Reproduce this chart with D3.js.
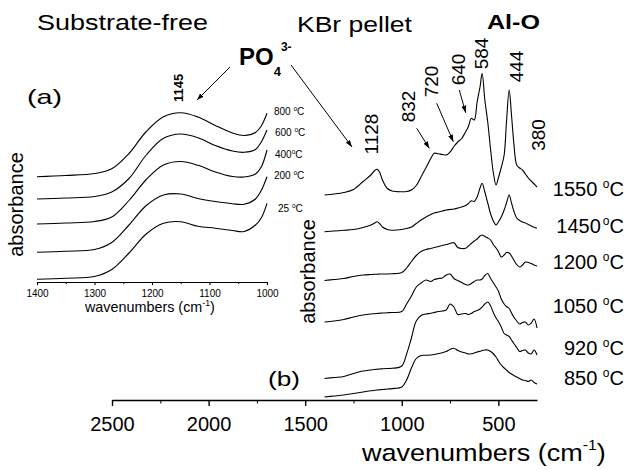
<!DOCTYPE html>
<html>
<head>
<meta charset="utf-8">
<script src="https://cdn.jsdelivr.net/npm/d3@7"></script>
<style>
    body { margin: 0; background: #fff; }
    svg { display: block; font-family: "Liberation Sans", Arial, sans-serif; }
</style>
</head>
<body>
<div id="chart"></div>
<script>
// (a) substrate-free films, stacked absorbance (a.u.)
var wnA = [1400, 1350, 1300, 1270, 1240, 1210, 1180, 1150, 1120, 1090, 1060, 1040, 1020, 1010, 1000];
var tempsA = ["25", "200", "400", "600", "800"];
var abs25 = [0.027, 0.038, 0.055, 0.125, 0.29, 0.48, 0.587, 0.603, 0.557, 0.538, 0.515, 0.505, 0.57, 0.64, 0.787];
var abs200 = [0.297, 0.308, 0.325, 0.395, 0.57, 0.765, 0.87, 0.88, 0.835, 0.805, 0.783, 0.777, 0.83, 0.915, 1.053];
var abs400 = [0.58, 0.59, 0.605, 0.65, 0.815, 1.025, 1.17, 1.205, 1.167, 1.10, 1.055, 1.05, 1.08, 1.15, 1.32];
var abs600 = [0.83, 0.84, 0.855, 0.90, 1.035, 1.27, 1.437, 1.48, 1.443, 1.365, 1.31, 1.297, 1.325, 1.40, 1.52];
var abs800 = [1.053, 1.065, 1.085, 1.132, 1.285, 1.505, 1.653, 1.693, 1.65, 1.565, 1.49, 1.465, 1.495, 1.56, 1.687];
var ticksA = [1400, 1300, 1200, 1100, 1000];
var minorA = [1350, 1250, 1150, 1050];

// (b) KBr pellet spectra, stacked absorbance (a.u.)
var wnB = [1400, 1350, 1300, 1250, 1200, 1160, 1140, 1128, 1115, 1100,
    1075, 1050, 1000, 975, 950, 925, 900, 875, 850, 832,
    810, 790, 770, 750, 730, 710, 690, 670, 655, 640,
    625, 610, 595, 584, 570, 555, 540, 525, 512, 500,
    485, 470, 458, 444, 432, 420, 405, 390, 375, 360,
    345, 330, 315, 300];
var tempsB = ["850", "920", "1050", "1200", "1450", "1550"];
var abs850 = [0.03, 0.04, 0.05, 0.065, 0.08, 0.092, 0.097, 0.10, 0.102, 0.105,
    0.11, 0.114, 0.13, 0.20, 0.32, 0.415, 0.445, 0.447, 0.45, 0.455,
    0.465, 0.473, 0.485, 0.505, 0.517, 0.495, 0.48, 0.47, 0.46, 0.462,
    0.47, 0.48, 0.487, 0.495, 0.50, 0.50, 0.485, 0.46, 0.43, 0.39,
    0.35, 0.32, 0.30, 0.275, 0.26, 0.245, 0.23, 0.215, 0.20, 0.195,
    0.185, 0.20, 0.175, 0.16];
var abs920 = [0.215, 0.225, 0.235, 0.265, 0.29, 0.30, 0.305, 0.307, 0.31, 0.312,
    0.315, 0.317, 0.34, 0.46, 0.62, 0.79, 0.845, 0.86, 0.867, 0.875,
    0.885, 0.89, 0.90, 0.96, 0.93, 0.855, 0.86, 0.865, 0.855, 0.865,
    0.885, 0.895, 0.91, 0.93, 0.96, 0.98, 0.94, 0.87, 0.82, 0.785,
    0.73, 0.665, 0.65, 0.635, 0.60, 0.565, 0.525, 0.485, 0.495, 0.50,
    0.47, 0.46, 0.50, 0.45];
var abs1050 = [0.78, 0.79, 0.805, 0.83, 0.85, 0.86, 0.863, 0.865, 0.867, 0.87,
    0.873, 0.875, 0.885, 0.96, 1.04, 1.13, 1.17, 1.20, 1.185, 1.205,
    1.215, 1.22, 1.25, 1.26, 1.215, 1.195, 1.175, 1.155, 1.15, 1.165,
    1.185, 1.20, 1.20, 1.21, 1.245, 1.265, 1.215, 1.17, 1.13, 1.09,
    1.01, 0.96, 0.935, 0.915, 0.87, 0.83, 0.79, 0.76, 0.775, 0.78,
    0.75, 0.77, 0.81, 0.72];
var abs1200 = [1.195, 1.205, 1.215, 1.235, 1.25, 1.255, 1.257, 1.258, 1.26, 1.26,
    1.26, 1.262, 1.275, 1.32, 1.385, 1.445, 1.485, 1.505, 1.515, 1.525,
    1.535, 1.545, 1.555, 1.565, 1.573, 1.525, 1.515, 1.517, 1.54, 1.565,
    1.59, 1.61, 1.64, 1.65, 1.635, 1.62, 1.60, 1.55, 1.52, 1.485,
    1.43, 1.45, 1.475, 1.47, 1.44, 1.40, 1.355, 1.33, 1.35, 1.38,
    1.375, 1.365, 1.35, 1.34];
var abs1450 = [1.683, 1.69, 1.697, 1.705, 1.725, 1.75, 1.77, 1.783, 1.765, 1.73,
    1.705, 1.698, 1.705, 1.715, 1.73, 1.765, 1.80, 1.83, 1.855, 1.87,
    1.88, 1.89, 1.90, 1.905, 1.91, 1.92, 1.93, 1.945, 1.965, 1.993,
    1.985, 2.03, 2.12, 2.167, 2.08, 1.97, 1.86, 1.785, 1.75, 1.78,
    1.83, 1.90, 1.97, 2.05, 1.97, 1.89, 1.82, 1.795, 1.78, 1.77,
    1.755, 1.74, 1.727, 1.717];
var abs1550 = [2.05, 2.06, 2.075, 2.105, 2.185, 2.25, 2.295, 2.307, 2.28, 2.20,
    2.115, 2.09, 2.083, 2.085, 2.10, 2.145, 2.232, 2.322, 2.415, 2.467,
    2.462, 2.455, 2.45, 2.48, 2.535, 2.58, 2.615, 2.68, 2.735, 2.817,
    2.80, 2.98, 3.13, 3.267, 3.00, 2.78, 2.50, 2.26, 2.15, 2.22,
    2.325, 2.45, 2.78, 3.10, 2.85, 2.57, 2.35, 2.32, 2.30, 2.26,
    2.22, 2.19, 2.16, 2.13];
var ticksB = [2500, 2000, 1500, 1000, 500];
var minorB = [2250, 1750, 1250, 750];
var peaksB = ["1128", "832", "720", "640", "584", "444", "380"];

window.onload = function(){
    var font = "'Liberation Sans', Arial, sans-serif";
    var svg = d3.select("#chart")
                .append("svg")
                .attr("width", 627)
                .attr("height", 470);

    // arrow head for the annotations
    svg.append("defs").append("marker")
        .attr("id", "ah")
        .attr("viewBox", "0 0 10 10")
        .attr("refX", 10)
        .attr("refY", 5)
        .attr("markerWidth", 7)
        .attr("markerHeight", 7)
        .attr("markerUnits", "userSpaceOnUse")
        .attr("orient", "auto")
        .append("path")
        .attr("d", "M0,1.5L10,5L0,8.5Z")
        .attr("fill", "#000");

    // text with optional sub/superscript runs, stretched to a width if asked
    function addText(x, y, runs, size, opts){
        opts = opts || {};
        var g = svg.append("g")
            .attr("transform", "translate(" + x + "," + y + ")" + (opts.rotate ? " rotate(" + opts.rotate + ")" : ""));
        var t = g.append("text")
            .attr("font-size", size)
            .attr("font-weight", opts.bold ? "bold" : "normal")
            .attr("text-anchor", opts.anchor || "start");
        runs.forEach(function(r){
            var s = t.append("tspan").text(r[0]);
            if(r[1]) s.attr("font-size", r[1]);
            if(r[2]) s.attr("dy", r[2]);
            if(r[3]) s.attr("dx", r[3]);
        });
        if(opts.width){
            var bw = t.node().getBBox().width;
            t.attr("transform", "scale(" + (opts.width / bw) + ",1)");
        }
        return t;
    }

    // ---------- panel (a) ----------
    var xA = d3.scaleLinear().domain([1400, 1000]).range([37, 267]);
    var yA = d3.scaleLinear().domain([0, 2]).range([282, 82]);
    var lineA = d3.line()
        .x(function(d, i){ return xA(wnA[i]); })
        .y(function(d){ return yA(d); })
        .curve(d3.curveCatmullRom.alpha(0.5));

    var seriesA = [abs25, abs200, abs400, abs600, abs800];
    svg.append("g").selectAll("path")
        .data(seriesA)
        .enter()
        .append("path")
        .attr("d", lineA)
        .attr("fill", "none")
        .attr("stroke", "#000")
        .attr("stroke-width", 1.1);

    var axA = svg.append("g")
        .attr("transform", "translate(0,282)")
        .call(d3.axisBottom(xA).tickValues(ticksA).tickSize(3).tickSizeOuter(0).tickPadding(5).tickFormat(d3.format("d")));
    axA.attr("font-family", font).attr("font-size", 10);
    axA.selectAll("line, path").attr("stroke-width", 1.1);
    svg.append("g")
        .attr("transform", "translate(0,282)")
        .call(d3.axisBottom(xA).tickValues(minorA).tickSize(2).tickFormat(""))
        .select(".domain").remove();

    // temperature labels of (a)
    var labA = {"800": [274, 115], "600": [275, 136], "400": [275, 157.5], "200": [274, 179], "25": [278, 211.5]};
    tempsA.forEach(function(t){
        var p = labA[t];
        var gap = t == "400" ? "" : " ";
        addText(p[0], p[1], [[t + gap], ["o", 6.5, -4], ["C", 10, 4]], 10);
    });

    addText(23, 204.5, [["absorbance"]], 20, {rotate: -90, anchor: "middle"});
    addText(85, 312, [["wavenumbers (cm"], ["-1", 8.5, -6], [")", 14, 6]], 14, {width: 131});
    addText(27, 103.5, [["(a)"]], 21, {width: 35});
    addText(183, 88, [["1145"]], 13, {rotate: -90, anchor: "middle", bold: true});

    // ---------- panel (b) ----------
    var xB = d3.scaleLinear().domain([2500, 300]).range([112, 537]);
    var yB = d3.scaleLinear().domain([0, 3.5]).range([400, 50]);
    var lineB = d3.line()
        .x(function(d, i){ return xB(wnB[i]); })
        .y(function(d){ return yB(d); })
        .curve(d3.curveCatmullRom.alpha(0.5));

    var seriesB = [abs850, abs920, abs1050, abs1200, abs1450, abs1550];
    svg.append("g").selectAll("path")
        .data(seriesB)
        .enter()
        .append("path")
        .attr("d", lineB)
        .attr("fill", "none")
        .attr("stroke", "#000")
        .attr("stroke-width", 1.1);

    var axB = svg.append("g")
        .attr("transform", "translate(0,400)")
        .call(d3.axisBottom(xB).tickValues(ticksB).tickSize(6).tickSizeOuter(0).tickPadding(11).tickFormat(d3.format("d")));
    axB.attr("font-family", font).attr("font-size", 20);
    axB.selectAll("line, path").attr("stroke-width", 1.4);
    svg.append("g")
        .attr("transform", "translate(0,400)")
        .call(d3.axisBottom(xB).tickValues(minorB).tickSize(3.5).tickFormat(""))
        .select(".domain").remove();

    // temperature labels of (b), right aligned
    var labB = {"1550": 196, "1450": 233, "1200": 269, "1050": 313, "920": 355, "850": 385};
    tempsB.forEach(function(t){
        var gap = t == "1450" ? "" : " ";
        addText(624, labB[t], [[t + gap], ["o", 12, -8, t == "1450" ? 2 : 0], ["C", 20, 8]], 20, {anchor: "end"});
    });

    // peak positions written vertically
    var peakPos = {"1128": [378, 134], "832": [415, 106.5], "720": [438, 81.5], "640": [465, 69.5],
                   "584": [488, 53.5], "444": [523, 66.5], "380": [545, 135]};
    peaksB.forEach(function(p){
        addText(peakPos[p][0], peakPos[p][1], [[p]], 19, {rotate: -90, anchor: "middle"});
    });

    addText(315, 271.5, [["absorbance"]], 20, {rotate: -90, anchor: "middle"});
    addText(362, 461, [["wavenumbers (cm"], ["-1", 14, -11], [")", 24, 11]], 24, {width: 245});
    addText(268, 385.5, [["(b)"]], 21, {width: 32});

    // headings
    addText(37, 30, [["Substrate-free"]], 22, {width: 171});
    addText(297, 32, [["KBr pellet"]], 22, {width: 115});
    addText(487, 29, [["Al-O"]], 21, {bold: true, width: 53});
    addText(239, 65, [["PO"], ["4", 13, 10.5], ["3-", 12, -25]], 24, {bold: true});

    // arrows
    var arrows = [[230, 67, 197, 100], [291, 65, 352, 147], [416.7, 128.3, 429.3, 148.3],
                  [436.7, 103.3, 453.3, 141.7], [459.3, 90, 465.7, 112.7]];
    svg.append("g").selectAll("line")
        .data(arrows)
        .enter()
        .append("line")
        .attr("x1", d => d[0])
        .attr("y1", d => d[1])
        .attr("x2", d => d[2])
        .attr("y2", d => d[3])
        .attr("stroke", "#000")
        .attr("stroke-width", 1)
        .attr("marker-end", "url(#ah)");
};
</script>
</body>
</html>
